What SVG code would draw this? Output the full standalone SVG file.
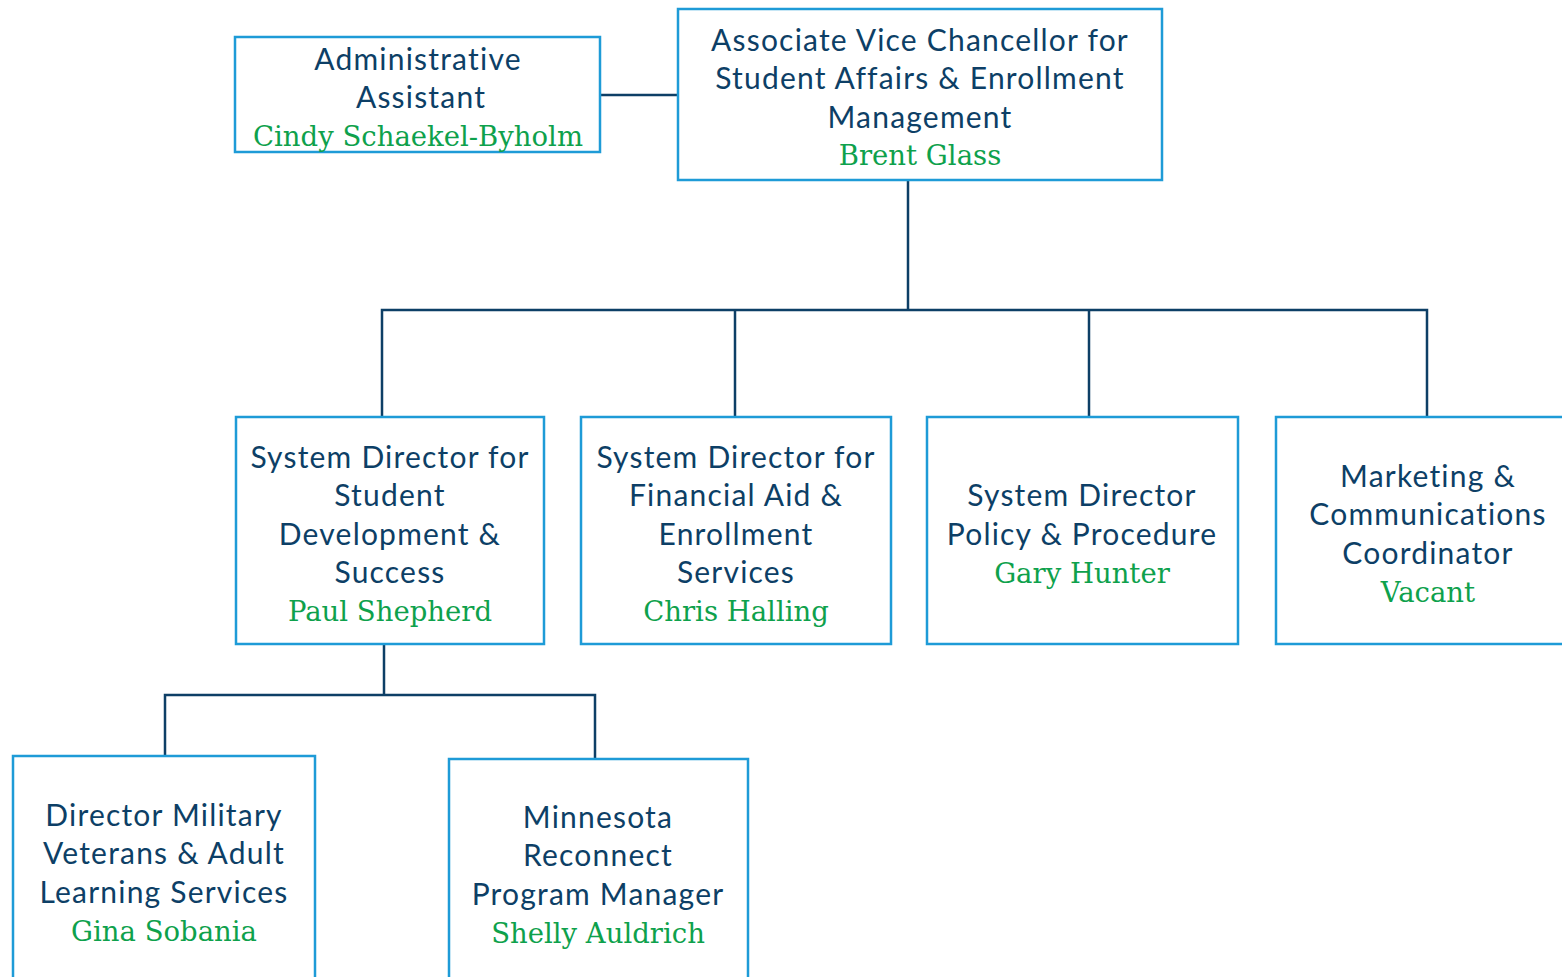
<svg xmlns="http://www.w3.org/2000/svg" width="1562" height="977" viewBox="0 0 1562 977">
<style>
.box{fill:#ffffff;stroke:#1e9bd7;stroke-width:2.5}
.con{fill:none;stroke:#0d3f66;stroke-width:2.5}
.t{font-family:Lato,"Open Sans",sans-serif;font-size:30px;letter-spacing:1.2px;fill:#0d3f66;text-anchor:middle}
.n{font-family:"DejaVu Serif","Liberation Serif",serif;font-size:27.5px;fill:#0ea14c;text-anchor:middle}
</style>
<rect width="1562" height="977" fill="#ffffff"/>
<g id="connectors">
<path class="con" d="M600,95 H678"/>
<path class="con" d="M908,180 V310"/>
<path class="con" d="M382,417 V310 H1427 V417"/>
<path class="con" d="M735,310 V417"/>
<path class="con" d="M1089,310 V417"/>
<path class="con" d="M384,644 V695"/>
<path class="con" d="M165,756 V695 H595 V759"/>
</g>
<g id="admin">
<rect class="box" x="235" y="37" width="365" height="115"/>
<text class="t" x="418" y="70">Administrative</text>
<text class="t" x="421" y="108">Assistant</text>
<text class="n" x="418" y="146">Cindy Schaekel-Byholm</text>
</g>
<g id="avc">
<rect class="box" x="678" y="9" width="484" height="171"/>
<text class="t" x="920" y="51">Associate Vice Chancellor for</text>
<text class="t" x="920" y="89">Student Affairs &amp; Enrollment</text>
<text class="t" x="920" y="128">Management</text>
<text class="n" x="920" y="165">Brent Glass</text>
</g>
<g id="student-dev">
<rect class="box" x="236" y="417" width="308" height="227"/>
<text class="t" x="390" y="468">System Director for</text>
<text class="t" x="390" y="506">Student</text>
<text class="t" x="390" y="545">Development &amp;</text>
<text class="t" x="390" y="583">Success</text>
<text class="n" x="390" y="621">Paul Shepherd</text>
</g>
<g id="financial-aid">
<rect class="box" x="581" y="417" width="310" height="227"/>
<text class="t" x="736" y="468">System Director for</text>
<text class="t" x="736" y="506">Financial Aid &amp;</text>
<text class="t" x="736" y="545">Enrollment</text>
<text class="t" x="736" y="583">Services</text>
<text class="n" x="736" y="621">Chris Halling</text>
</g>
<g id="policy">
<rect class="box" x="927" y="417" width="311" height="227"/>
<text class="t" x="1082" y="506">System Director</text>
<text class="t" x="1082" y="545">Policy &amp; Procedure</text>
<text class="n" x="1082" y="583">Gary Hunter</text>
</g>
<g id="marketing">
<rect class="box" x="1276" y="417" width="310" height="227"/>
<text class="t" x="1428" y="487">Marketing &amp;</text>
<text class="t" x="1428" y="525">Communications</text>
<text class="t" x="1428" y="564">Coordinator</text>
<text class="n" x="1428" y="602">Vacant</text>
</g>
<g id="military">
<rect class="box" x="13" y="756" width="302" height="240"/>
<text class="t" x="164" y="826">Director Military</text>
<text class="t" x="164" y="864">Veterans &amp; Adult</text>
<text class="t" x="164" y="903">Learning Services</text>
<text class="n" x="164" y="941">Gina Sobania</text>
</g>
<g id="reconnect">
<rect class="box" x="449" y="759" width="299" height="240"/>
<text class="t" x="598" y="828">Minnesota</text>
<text class="t" x="598" y="866">Reconnect</text>
<text class="t" x="598" y="905">Program Manager</text>
<text class="n" x="598" y="943">Shelly Auldrich</text>
</g>
</svg>
